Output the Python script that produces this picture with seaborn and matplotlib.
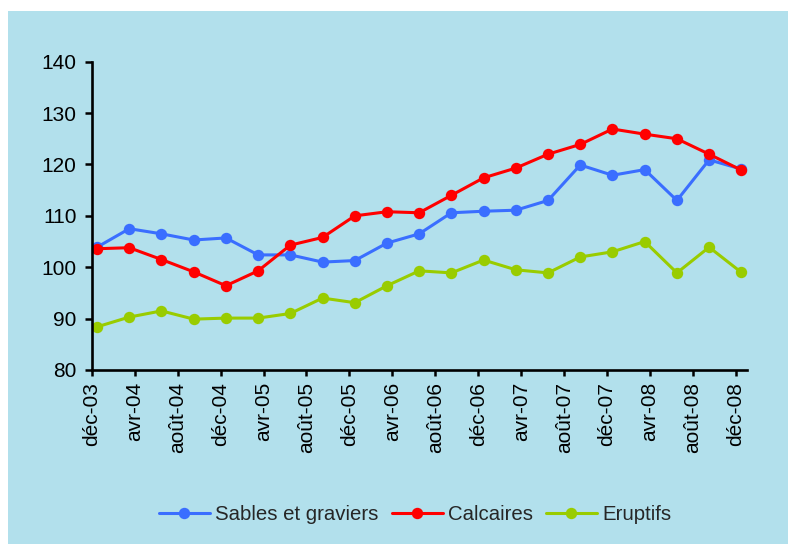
import numpy as np
import pandas as pd
import matplotlib.pyplot as plt
import seaborn as sns

# ── Données (indices trimestriels, déc-03 -> déc-08) ──
mois = np.arange(21) * 3 + 0.5   # mois écoulés depuis le 1er déc. 2003 (milieu de mois)

sables = [103.9, 107.5, 106.5, 105.3, 105.7, 102.4, 102.4, 101.0, 101.3, 104.7, 106.5,
          110.6, 110.9, 111.1, 113.0, 119.9, 117.9, 119.0, 113.0, 120.9, 119.1]
calcaires = [103.6, 103.8, 101.5, 99.1, 96.4, 99.3, 104.3, 105.8, 110.0, 110.8, 110.6,
             114.0, 117.4, 119.3, 122.0, 123.9, 126.9, 125.9, 125.0, 122.0, 118.9]
eruptifs = [88.4, 90.3, 91.5, 89.9, 90.1, 90.1, 91.0, 94.0, 93.1, 96.4, 99.3,
            98.9, 101.4, 99.5, 98.9, 102.0, 103.0, 105.0, 98.9, 103.9, 99.0]

series = ['Sables et graviers', 'Calcaires', 'Eruptifs']
couleurs = ['#3A6EFF', '#FF0000', '#99CC00']

tick_pos = np.arange(0, 61, 4)
tick_labels = ['déc-03', 'avr-04', 'août-04', 'déc-04', 'avr-05', 'août-05', 'déc-05',
               'avr-06', 'août-06', 'déc-06', 'avr-07', 'août-07', 'déc-07', 'avr-08',
               'août-08', 'déc-08']

df = pd.DataFrame({
    'mois': np.tile(mois, 3),
    'indice': sables + calcaires + eruptifs,
    'serie': np.repeat(series, len(mois)),
})

# ── Style ──
sns.set_style('ticks')
plt.rcParams['font.family'] = ['Liberation Sans', 'DejaVu Sans']
fond = '#B2E0EC'

fig = plt.figure(figsize=(7.88, 5.44), dpi=100)
fig.patch.set_facecolor('white')
# cadre bleu clair (léger bord blanc en haut et à gauche)
fig.patches.append(plt.Rectangle((8 / 788, 0), 1, 1 - 11 / 544, transform=fig.transFigure,
                                 facecolor=fond, edgecolor='none', zorder=-1))

ax = fig.add_axes([91.7 / 788, 1 - 370 / 544, (746.7 - 91.7) / 788, (370 - 61.7) / 544])
ax.set_facecolor(fond)

for nom, c in zip(series, couleurs):
    sub = df[df['serie'] == nom]
    sns.lineplot(data=sub, x='mois', y='indice', ax=ax, color=c, label=nom,
                 marker='o', markersize=8.2, markeredgewidth=0, linewidth=2.2)

ax.set_xlim(0, 61)
ax.set_ylim(80, 140)
ax.set_yticks(range(80, 141, 10))
ax.set_xticks(tick_pos)
ax.set_xticklabels(tick_labels, rotation=90)
ax.set_xlabel('')
ax.set_ylabel('')

for s in ['top', 'right']:
    ax.spines[s].set_visible(False)
for s in ['left', 'bottom']:
    ax.spines[s].set_linewidth(1.9)
    ax.spines[s].set_color('black')

ax.tick_params(axis='y', length=5, width=1.8, pad=6, labelsize=15, colors='black')
ax.tick_params(axis='x', length=4.5, width=1.8, pad=4, labelsize=15, colors='black')

leg = ax.legend(loc='center', bbox_to_anchor=(415 / 788, 1 - 515 / 544),
                bbox_transform=fig.transFigure, ncol=3, frameon=False,
                fontsize=14.7, handlelength=2.5, handletextpad=0.25,
                columnspacing=0.65)

plt.savefig('out.png', dpi=100, facecolor=fig.get_facecolor())
